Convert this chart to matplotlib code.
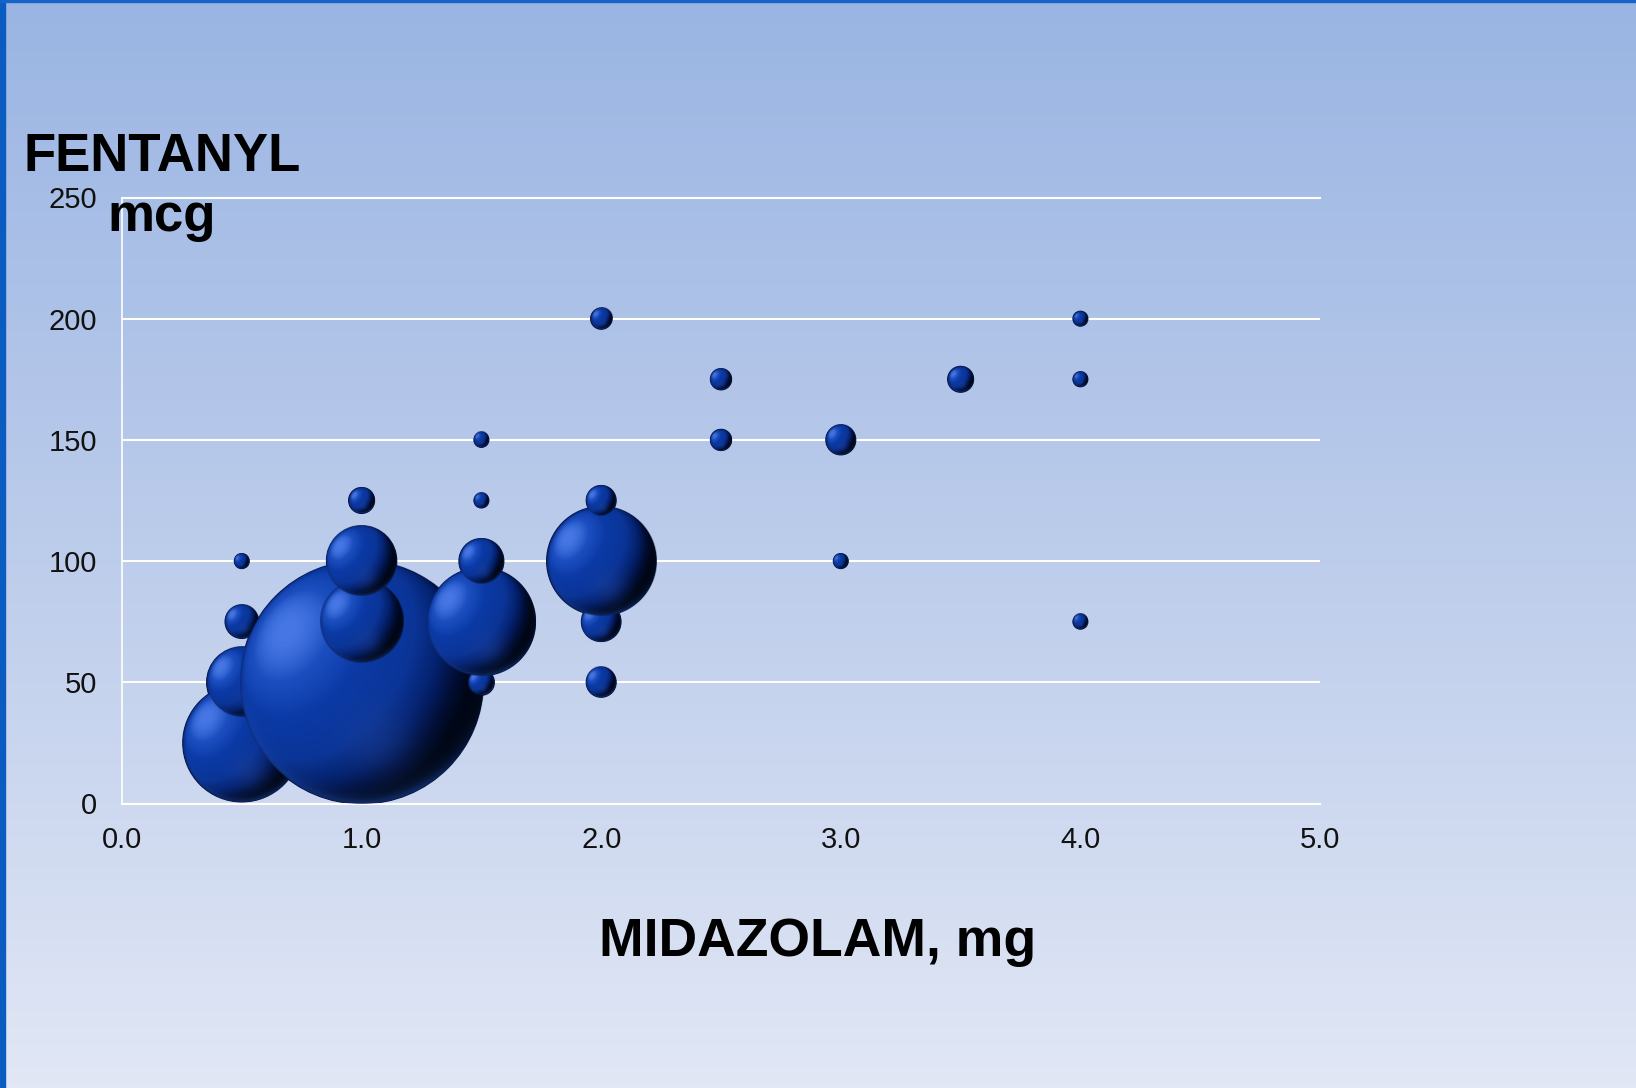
import matplotlib.pyplot as plt
import numpy as np
from matplotlib.colors import LinearSegmentedColormap
from matplotlib.patches import Rectangle

plt.rcParams["font.family"] = ["Liberation Sans", "DejaVu Sans"]

# bubble chart data: midazolam dose vs fentanyl dose, bubble area = number of cases
MIDAZOLAM_MG = [0.5, 0.5, 0.5, 0.5, 1.0, 1.0, 1.0, 1.0, 1.5, 1.5, 1.5, 1.5, 1.5,
                2.0, 2.0, 2.0, 2.0, 2.0, 2.5, 2.5, 3.0, 3.0, 3.5, 4.0, 4.0, 4.0]
FENTANYL_MCG = [25, 50, 75, 100, 50, 75, 100, 125, 50, 75, 100, 125, 150,
                50, 75, 100, 125, 200, 150, 175, 100, 150, 175, 75, 175, 200]
CASES = [62, 22, 5, 1, 263, 31, 22, 3, 3, 52, 9, 1, 1,
         4, 7, 53, 4, 2, 2, 2, 1, 4, 3, 1, 1, 1]

X_TICKS = [0, 1, 2, 3, 4, 5]
Y_TICKS = [0, 50, 100, 150, 200, 250]

DPI = 100
RADIUS_ONE_CASE = 7.5  # px radius of a bubble holding one case

SPHERE_CMAP = LinearSegmentedColormap.from_list(
    "sphere",
    [(0.0, "#000614"), (0.18, "#010E36"), (0.35, "#04206A"), (0.55, "#0A3496"),
     (0.8, "#0B3AA6"), (0.93, "#1C4EC0"), (1.0, "#4677E4")],
)


def unit(vec):
    vec = np.asarray(vec, dtype=float)
    return vec / np.linalg.norm(vec)


def sphere_image(radius_px):
    n = max(40, int(radius_px * 4))
    g = np.linspace(-1, 1, n)
    u, v = np.meshgrid(g, g[::-1])
    rho = np.sqrt(u ** 2 + v ** 2)
    nz = np.sqrt(np.clip(1 - rho ** 2, 0, 1))
    light = unit([-0.62, 0.42, 0.66])
    shade = u * light[0] + v * light[1] + nz * light[2]
    t = np.clip((shade + 0.25) / 1.25, 0, 1)
    rgba = SPHERE_CMAP(t)
    rgb = rgba[..., :3]

    # soft reflected spot in the lower half
    spot = np.exp(-((u - 0.15) ** 2 + (v + 0.5) ** 2) / (2 * 0.22 ** 2)) * 0.28
    rgb = rgb * (1 - spot[..., None]) + np.array([0.16, 0.30, 0.64]) * spot[..., None]

    # light rim along the lower left edge
    side = np.clip(0.6 - u * 0.5 - v * 0.7, 0, 1) * np.clip(-v + 0.2, 0, 1)
    rim = np.exp(-(1 - np.clip(rho, 0, 1)) / 0.05) * side * 0.55
    rgb = rgb * (1 - rim[..., None]) + np.array([0.15, 0.36, 0.80]) * rim[..., None]

    # thin dark outline
    edge = np.exp(-(1 - np.clip(rho, 0, 1)) * radius_px / 1.2) * 0.5
    rgb = rgb * (1 - edge[..., None]) + np.array([0.02, 0.07, 0.22]) * edge[..., None]

    rgba[..., :3] = rgb
    rgba[..., 3] = np.clip((1 - rho) * radius_px + 0.5, 0, 1)
    return rgba


fig = plt.figure(figsize=(16.36, 10.88), dpi=DPI)

# background gradient
bg = fig.add_axes([0, 0, 1, 1], zorder=-5)
grad_cmap = LinearSegmentedColormap.from_list(
    "bg", [(0.0, "#9AB5E3"), (0.5, "#BCCCEB"), (1.0, "#E1E7F5")])
bg.imshow(np.linspace(0, 1, 256)[:, None], cmap=grad_cmap, aspect="auto",
          extent=(0, 1, 0, 1))
bg.set_xlim(0, 1)
bg.set_ylim(0, 1)
bg.axis("off")
bg.add_patch(Rectangle((0, 0), 5 / 1636, 1, color="#0A5CC0", transform=bg.transAxes))
bg.add_patch(Rectangle((0, 1 - 2 / 1088), 1, 2 / 1088, color="#1565C8", transform=bg.transAxes))

ax = fig.add_axes([122 / 1636, 1 - 803.5 / 1088, 1198 / 1636, 606 / 1088])
ax.patch.set_alpha(0)
ax.set_xlim(0, 5)
ax.set_ylim(0, 250)
ax.set_xticks(X_TICKS, [f"{t:.1f}" for t in X_TICKS])
ax.set_yticks(Y_TICKS)
ax.tick_params(axis="both", length=0, labelsize=21, colors="#111111")
ax.tick_params(axis="x", pad=16)
ax.tick_params(axis="y", pad=18)
ax.grid(axis="y", color="white", linewidth=1.5, zorder=1)
ax.set_axisbelow(True)
for side in ["top", "bottom"]:
    ax.spines[side].set_color("white")
    ax.spines[side].set_linewidth(1.5)
ax.spines["left"].set_color("white")
ax.spines["left"].set_linewidth(1.2)
ax.spines["right"].set_visible(False)

cases = np.array(CASES, dtype=float)
radius_px = RADIUS_ONE_CASE * np.sqrt(cases)
diam_pt = 2 * radius_px * 72 / DPI
ax.scatter(MIDAZOLAM_MG, FENTANYL_MCG, s=diam_pt ** 2, color="#0A2F8E",
           edgecolors="#061546", linewidths=0.8, zorder=2, clip_on=False)

# shaded spheres on top of the base discs, in data order
origin = ax.transData.transform((0, 0))
px_per_x = ax.transData.transform((1, 0))[0] - origin[0]
px_per_y = ax.transData.transform((0, 1))[1] - origin[1]
for i, (x, y, r) in enumerate(zip(MIDAZOLAM_MG, FENTANYL_MCG, radius_px)):
    rx = r / px_per_x
    ry = r / px_per_y
    ax.imshow(sphere_image(r), extent=(x - rx, x + rx, y - ry, y + ry),
              aspect="auto", interpolation="bilinear", zorder=3 + i * 0.01,
              clip_on=False)
ax.set_xlim(0, 5)
ax.set_ylim(0, 250)

fig.text(162 / 1636, 1 - 171 / 1088, "FENTANYL", ha="center", va="baseline",
         fontsize=38, fontweight="bold", color="black")
fig.text(162 / 1636, 1 - 231 / 1088, "mcg", ha="center", va="baseline",
         fontsize=38, fontweight="bold", color="black")
fig.text(817.5 / 1636, 1 - 956 / 1088, "MIDAZOLAM, mg", ha="center", va="baseline",
         fontsize=38.5, fontweight="bold", color="black")

fig.savefig("out.png", dpi=DPI)
